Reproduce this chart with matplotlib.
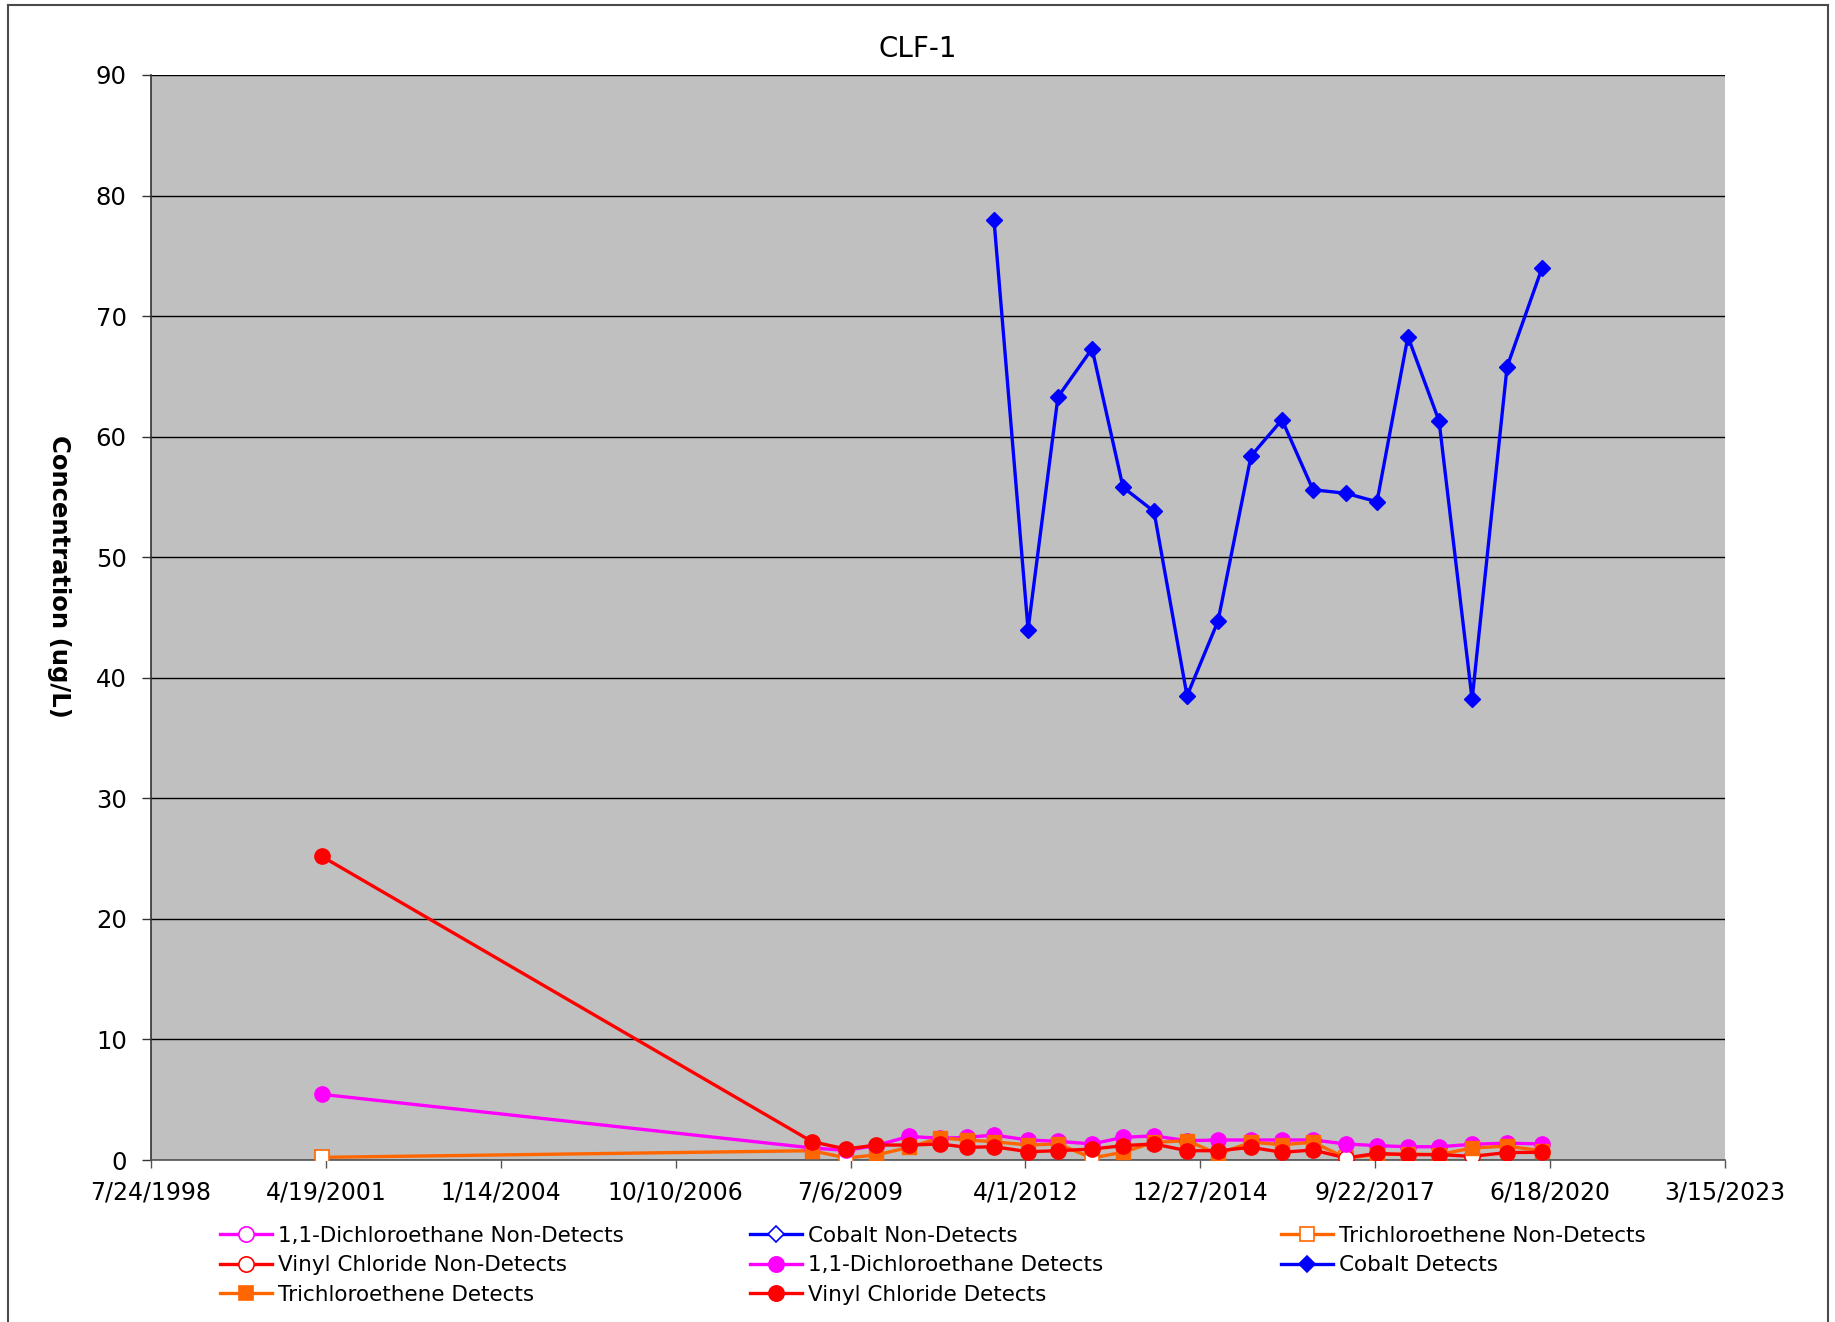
import matplotlib
matplotlib.use("Agg")
import matplotlib.pyplot as plt
import matplotlib.dates as mdates
from matplotlib.lines import Line2D
from datetime import datetime

# ---------------- data ----------------
sample_dates = ["2001-03-25", "2008-11-28", "2009-06-10", "2009-11-29", "2010-06-05",
                "2010-11-29", "2011-05-03", "2011-10-04", "2012-04-16", "2012-10-04",
                "2013-04-17", "2013-10-11", "2014-04-06", "2014-10-12", "2015-04-07",
                "2015-10-13", "2016-04-07", "2016-10-01", "2017-04-08", "2017-10-02",
                "2018-03-28", "2018-09-22", "2019-03-30", "2019-10-16", "2020-05-03"]

dca_values = [5.45, 1.0, 0.8, 1.2, 1.96, 1.8, 1.88, 2.07, 1.66, 1.55, 1.33, 1.88, 2.0,
              1.6, 1.66, 1.66, 1.66, 1.66, 1.33, 1.19, 1.1, 1.1, 1.3, 1.4, 1.33]
dca_nd = [False] * 25

cobalt_values = [None, None, None, None, None, None, None,
                 78.0, 44.0, 63.3, 67.3, 55.8, 53.8, 38.5, 44.7, 58.4, 61.4, 55.6,
                 55.3, 54.6, 68.3, 61.3, 38.2, 65.8, 74.0]
cobalt_nd = [False] * 25

tce_values = [0.22, 0.77, 0.17, 0.41, 1.05, 1.83, 1.66, 1.52, 1.24, 1.33, 0.17, 0.64, 1.47,
              1.6, 0.5, 1.47, 1.27, 1.47, 0.17, 0.44, 0.5, 0.44, 1.0, 1.15, 0.77]
tce_nd = [True, False, True, False, False, False, False, False, False, False, True, False, False,
          False, False, False, False, False, True, False, False, False, False, False, False]

vc_values = [25.2, 1.52, 0.91, 1.24, 1.24, 1.33, 1.05, 1.1, 0.69, 0.77, 0.91, 1.19, 1.33,
             0.77, 0.77, 1.05, 0.64, 0.83, 0.17, 0.55, 0.44, 0.45, 0.3, 0.62, 0.64]
vc_nd = [False] * 18 + [True, False, False, False, True, False, False]

x_tick_labels = ["7/24/1998", "4/19/2001", "1/14/2004", "10/10/2006", "7/6/2009",
                 "4/1/2012", "12/27/2014", "9/22/2017", "6/18/2020", "3/15/2023"]
y_ticks = [0, 10, 20, 30, 40, 50, 60, 70, 80, 90]

title = "CLF-1"
y_label = "Concentration (ug/L)"

# ---------------- styles ----------------
C_DCA = "#FF00FF"
C_CO = "#0000FF"
C_TCE = "#FF6600"
C_VC = "#FF0000"
BG = "#C0C0C0"
FONT = "DejaVu Sans"

plt.rcParams["font.family"] = [FONT]

W, H = 1835, 1322
fig = plt.figure(figsize=(W / 100, H / 100), dpi=100)
fig.patch.set_facecolor("white")

ax = fig.add_axes([151 / W, (H - 1160) / H, 1574 / W, 1085 / H])
ax.set_facecolor(BG)

xd = [mdates.date2num(datetime.strptime(d, "%Y-%m-%d")) for d in sample_dates]
xt = [mdates.date2num(datetime.strptime(s, "%m/%d/%Y")) for s in x_tick_labels]

LW = 2.4

def split(vals, nd):
    det_x, det_y, nd_x, nd_y, all_x, all_y = [], [], [], [], [], []
    for x, v, n in zip(xd, vals, nd):
        if v is None:
            continue
        all_x.append(x); all_y.append(v)
        if n:
            nd_x.append(x); nd_y.append(v)
        else:
            det_x.append(x); det_y.append(v)
    return det_x, det_y, nd_x, nd_y, all_x, all_y

dca = split(dca_values, dca_nd)
co = split(cobalt_values, cobalt_nd)
tce = split(tce_values, tce_nd)
vc = split(vc_values, vc_nd)

# connecting lines
for s, c, z in [(dca, C_DCA, 2.0), (co, C_CO, 2.1), (tce, C_TCE, 2.2), (vc, C_VC, 2.3)]:
    ax.plot(s[4], s[5], color=c, lw=LW, zorder=z, solid_joinstyle="miter")

CIRC_MS = 11
SQ_MS = 10
DIA_MS = 8.5

# markers in excel series order
ax.plot(dca[2], dca[3], ls="none", marker="o", ms=CIRC_MS, mfc="white", mec=C_DCA, mew=1.2, zorder=3.0)
ax.plot(co[2], co[3], ls="none", marker="D", ms=DIA_MS, mfc="white", mec=C_CO, mew=1.2, zorder=3.1)
ax.plot(tce[2], tce[3], ls="none", marker="s", ms=SQ_MS, mfc="white", mec=C_TCE, mew=1.2, zorder=3.2)
ax.plot(vc[2], vc[3], ls="none", marker="o", ms=CIRC_MS, mfc="white", mec=C_VC, mew=1.2, zorder=3.3)
ax.plot(dca[0], dca[1], ls="none", marker="o", ms=CIRC_MS, mfc=C_DCA, mec=C_DCA, zorder=3.4)
ax.plot(co[0], co[1], ls="none", marker="D", ms=DIA_MS, mfc=C_CO, mec=C_CO, zorder=3.5)
ax.plot(tce[0], tce[1], ls="none", marker="s", ms=SQ_MS, mfc=C_TCE, mec=C_TCE, zorder=3.6)
ax.plot(vc[0], vc[1], ls="none", marker="o", ms=CIRC_MS, mfc=C_VC, mec=C_VC, zorder=3.7)

ax.set_xlim(xt[0], xt[-1])
ax.set_ylim(y_ticks[0], y_ticks[-1])
ax.set_xticks(xt)
ax.set_xticklabels(x_tick_labels)
ax.set_yticks(y_ticks)
ax.set_yticklabels([str(v) for v in y_ticks])

ax.yaxis.grid(True, color="black", lw=1.0, zorder=1)
ax.set_axisbelow(True)
for sp in ("top", "right"):
    ax.spines[sp].set_visible(False)
ax.spines["left"].set_color("#333333")
ax.spines["bottom"].set_color("#555555")
ax.spines["left"].set_linewidth(1.2)
ax.spines["bottom"].set_linewidth(1.2)

ax.tick_params(axis="y", direction="out", length=6.5, width=1.0, color="#333333",
               labelsize=17.5, pad=11)
ax.tick_params(axis="x", direction="out", length=6, width=1.0, color="#555555",
               labelsize=17, pad=9)

fig.text(0.5, 1 - 49 / H, title, ha="center", va="center", fontsize=20)
fig.text(59 / W, 1 - 576 / H, y_label, ha="center", va="center", rotation=-90,
         fontsize=17.5, fontweight="bold")

# figure border
bc = "#4a4a4a"
fig.add_artist(Line2D([8 / W, 1828 / W], [1 - 5 / H, 1 - 5 / H], color=bc, lw=1.5, transform=fig.transFigure))
fig.add_artist(Line2D([8 / W, 8 / W], [-0.01, 1 - 5 / H], color=bc, lw=1.5, transform=fig.transFigure))
fig.add_artist(Line2D([1828 / W, 1828 / W], [-0.01, 1 - 5 / H], color=bc, lw=1.5, transform=fig.transFigure))

# legend
def h(color, marker, ms, filled):
    return Line2D([], [], color=color, lw=LW, marker=marker, ms=ms,
                  mfc=color if filled else "white", mec=color, mew=1.2)

entries = [
    [(h(C_DCA, "o", CIRC_MS, False), "1,1-Dichloroethane Non-Detects"),
     (h(C_VC, "o", CIRC_MS, False), "Vinyl Chloride Non-Detects"),
     (h(C_TCE, "s", SQ_MS, True), "Trichloroethene Detects")],
    [(h(C_CO, "D", DIA_MS, False), "Cobalt Non-Detects"),
     (h(C_DCA, "o", CIRC_MS, True), "1,1-Dichloroethane Detects"),
     (h(C_VC, "o", CIRC_MS, True), "Vinyl Chloride Detects")],
    [(h(C_TCE, "s", SQ_MS, False), "Trichloroethene Non-Detects"),
     (h(C_CO, "D", DIA_MS, True), "Cobalt Detects")],
]
col_x = [220 / W, 750 / W, 1281 / W]
legend_top = 1 - 1226 / H
for cx, ent in zip(col_x, entries):
    lg = fig.legend([e[0] for e in ent], [e[1] for e in ent], loc="upper left",
                    bbox_to_anchor=(cx, legend_top), bbox_transform=fig.transFigure,
                    frameon=False, borderpad=0, borderaxespad=0, handlelength=2.4,
                    handletextpad=0.3, labelspacing=0.44, fontsize=15.5)

fig.savefig("out.png", dpi=100, facecolor="white")
